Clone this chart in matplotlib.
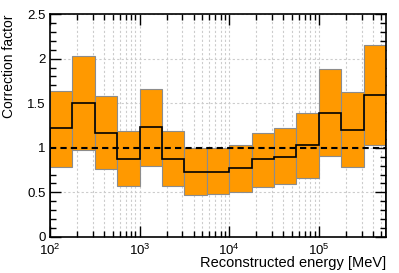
import numpy as np
import matplotlib
matplotlib.use("Agg")
from matplotlib import pyplot as plt
from matplotlib.ticker import LogLocator, MultipleLocator, FuncFormatter

# bin edges in log10(E / MeV), 4 bins per decade
log_edges = [2.0, 2.25, 2.5, 2.75, 3.0, 3.25, 3.5, 3.75, 4.0,
             4.25, 4.5, 4.75, 5.0, 5.25, 5.5, 5.75]
upper = [1.64, 2.03, 1.58, 1.19, 1.66, 1.19, 1.00, 1.00, 1.035,
         1.17, 1.22, 1.39, 1.88, 1.62, 2.15]
center = [1.22, 1.50, 1.17, 0.88, 1.23, 0.88, 0.73, 0.73, 0.77,
          0.87, 0.90, 1.035, 1.39, 1.20, 1.59]
lower = [0.79, 0.975, 0.76, 0.57, 0.80, 0.57, 0.47, 0.48, 0.50,
         0.56, 0.59, 0.665, 0.91, 0.785, 1.035]

plt.rcParams["font.family"] = ["Liberation Sans", "DejaVu Sans"]
plt.rcParams["mathtext.fontset"] = "custom"
plt.rcParams["mathtext.rm"] = "Liberation Sans"

edges = 10 ** np.array(log_edges)
upper = np.array(upper)
lower = np.array(lower)

fig = plt.figure(figsize=(3.99, 2.73), dpi=100)
ax = fig.add_axes([0.1253, 0.1319, 0.9674 - 0.1253, 0.9487 - 0.1319])

# error band boxes
ax.bar(edges[:-1], upper - lower, width=np.diff(edges), bottom=lower,
       align="edge", color="#ff9900", edgecolor="#8c8c8c", linewidth=0.8,
       zorder=2)
ax.stairs(center, edges, color="black", linewidth=1.2, zorder=3)
ax.axhline(1.0, color="black", linestyle=(0, (3, 2)), linewidth=1.5, zorder=4)

ax.set_xscale("log")
ax.set_xlim(edges[0], edges[-1])
ax.set_ylim(0, 2.5)

ax.xaxis.set_major_locator(LogLocator(base=10, numticks=10))
ax.xaxis.set_minor_locator(LogLocator(base=10, subs=np.arange(2, 10), numticks=10))
ax.xaxis.set_major_formatter(FuncFormatter(lambda v, p: r"$10^{%d}$" % round(np.log10(v))))
ax.yaxis.set_major_locator(MultipleLocator(0.5))
ax.yaxis.set_minor_locator(MultipleLocator(0.1))
ax.yaxis.set_major_formatter(FuncFormatter(lambda v, p: "%g" % v))

ax.grid(True, which="major", axis="y", color="#cccccc", linestyle=(0, (2, 2)), linewidth=0.8, zorder=0)
ax.grid(True, which="both", axis="x", color="#cccccc", linestyle=(0, (2, 2)), linewidth=0.8, zorder=0)
ax.set_axisbelow(True)

ax.tick_params(which="both", direction="in", top=True, right=True, labelsize=9.5, width=1)
ax.tick_params(which="major", length=8)
ax.tick_params(which="minor", length=4)
ax.tick_params(axis="x", pad=4)
ax.tick_params(axis="y", pad=3)
for s in ax.spines.values():
    s.set_linewidth(1.2)

ax.set_xlabel("Reconstructed energy [MeV]", fontsize=10.5, loc="right", labelpad=-1)
ax.set_ylabel("Correction factor", fontsize=10, loc="top", labelpad=8)

fig.savefig("out.png", dpi=100)
